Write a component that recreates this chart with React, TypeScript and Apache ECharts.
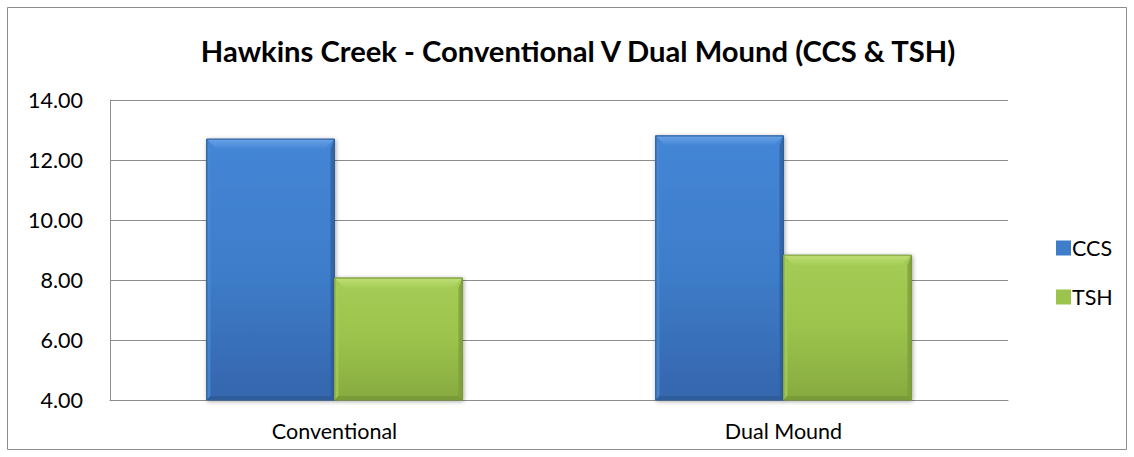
import React, { useEffect, useRef } from "react";
import * as echarts from "echarts";

const categories = ["Conventional", "Dual Mound"];
const ccsValues = [12.7, 12.81];
const tshValues = [8.07, 8.83];
const yTicks = { min: 4, max: 14, interval: 2 };

const FONT = "Lato, 'Noto Sans', sans-serif";

type Pal = { top: string; mid: string; bottom: string; bevelTop: string; bevelLeft: string; bevelRight: string; bevelBottom: string; edge: string };

const bluePal: Pal = {
  top: "#4486d6",
  mid: "#3e7dca",
  bottom: "#3566ad",
  bevelTop: "#6aa3e6",
  bevelLeft: "#4a88d2",
  bevelRight: "#2f609f",
  bevelBottom: "#2d5a95",
  edge: "#2f5f9e",
};
const greenPal: Pal = {
  top: "#a5cd55",
  mid: "#9cc34c",
  bottom: "#87aa40",
  bevelTop: "#c1df78",
  bevelLeft: "#a6cb58",
  bevelRight: "#7d9e3a",
  bevelBottom: "#779737",
  edge: "#7a9a38",
};

function makeRender(offsetFactor: number, pal: Pal) {
  return (params: any, api: any) => {
    const cat = api.value(0);
    const val = api.value(1);
    const topPt = api.coord([cat, val]);
    const basePt = api.coord([cat, yTicks.min]);
    const band = api.size([1, 0])[0];
    const bw = band * 0.285;
    const x0 = topPt[0] + offsetFactor * bw;
    const y0 = topPt[1];
    const w = bw;
    const h = basePt[1] - topPt[1];
    const b = 10;
    const s = 4;
    return {
      type: "group",
      children: [
        {
          type: "rect",
          shape: { x: x0, y: y0, width: w, height: h },
          style: {
            fill: new echarts.graphic.LinearGradient(0, 0, 0, 1, [
              { offset: 0, color: pal.top },
              { offset: 0.5, color: pal.mid },
              { offset: 1, color: pal.bottom },
            ]),
            stroke: pal.edge,
            lineWidth: 1,
            shadowColor: "rgba(0,0,0,0.35)",
            shadowBlur: 4,
            shadowOffsetX: 1,
            shadowOffsetY: 1,
          },
        },
        {
          type: "polygon",
          shape: { points: [[x0, y0], [x0 + s, y0 + b], [x0 + s, y0 + h - s], [x0, y0 + h]] },
          style: { fill: pal.bevelLeft, opacity: 0.8 },
        },
        {
          type: "polygon",
          shape: { points: [[x0 + w, y0], [x0 + w - s, y0 + b], [x0 + w - s, y0 + h - s], [x0 + w, y0 + h]] },
          style: { fill: pal.bevelRight, opacity: 0.8 },
        },
        {
          type: "polygon",
          shape: { points: [[x0, y0 + h], [x0 + s, y0 + h - s], [x0 + w - s, y0 + h - s], [x0 + w, y0 + h]] },
          style: { fill: pal.bevelBottom, opacity: 0.8 },
        },
        {
          type: "polygon",
          shape: { points: [[x0, y0], [x0 + w, y0], [x0 + w - b, y0 + b], [x0 + b, y0 + b]] },
          style: {
            fill: new echarts.graphic.LinearGradient(0, 0, 0, 1, [
              { offset: 0, color: pal.bevelTop },
              { offset: 1, color: pal.top },
            ]),
          },
        },
        {
          type: "rect",
          shape: { x: x0 + 0.5, y: y0 + 0.5, width: w - 1, height: h - 1 },
          style: { fill: "none", stroke: pal.edge, lineWidth: 1, opacity: 0.7 },
        },
      ],
    };
  };
}

export default function App() {
  const ref = useRef<HTMLDivElement>(null);
  useEffect(() => {
    const chart = echarts.init(ref.current!, null, { renderer: "svg" });
    chart.setOption({
      animation: false,
      title: {
        text: "Hawkins Creek - Conventional V Dual Mound (CCS & TSH)",
        left: 573,
        textAlign: "center",
        top: 31,
        textStyle: { fontFamily: FONT, fontSize: 29.2, fontWeight: "bold", color: "#000" },
      },
      graphic: [
        {
          type: "rect",
          shape: { x: 7.5, y: 7.5, width: 1119, height: 442 },
          style: { fill: "none", stroke: "#8c8c8c", lineWidth: 1 },
          silent: true,
        },
      ],
      legend: {
        orient: "vertical",
        left: 1051,
        top: 232,
        itemWidth: 15,
        itemHeight: 15,
        itemGap: 27,
        icon: "rect",
        textStyle: { fontFamily: FONT, fontSize: 21.5, color: "#000", padding: [0, 0, 0, -4] },
        data: [
          { name: "CCS", itemStyle: { color: "#3e7dca" } },
          { name: "TSH", itemStyle: { color: "#9cc34c" } },
        ],
      },
      grid: { left: 110, top: 100, width: 898, height: 300 },
      xAxis: {
        type: "category",
        data: categories,
        axisLine: { lineStyle: { color: "#8c8c8c" } },
        axisTick: { show: false },
        axisLabel: { fontFamily: FONT, fontSize: 21.5, color: "#000", margin: 20 },
      },
      yAxis: {
        type: "value",
        min: yTicks.min,
        max: yTicks.max,
        interval: yTicks.interval,
        axisLine: { show: true, lineStyle: { color: "#8c8c8c" } },
        axisTick: { show: false },
        axisLabel: {
          fontFamily: FONT,
          fontSize: 21.5,
          color: "#000",
          margin: 27,
          formatter: (v: number) => v.toFixed(2),
        },
        splitLine: { lineStyle: { color: "#8c8c8c", width: 1 } },
      },
      series: [
        {
          name: "CCS",
          type: "custom",
          itemStyle: { color: "#3e7dca" },
          renderItem: makeRender(-1, bluePal),
          encode: { x: 0, y: 1 },
          data: categories.map((_, i) => [i, ccsValues[i]]),
        },
        {
          name: "TSH",
          type: "custom",
          itemStyle: { color: "#9cc34c" },
          renderItem: makeRender(0, greenPal),
          encode: { x: 0, y: 1 },
          data: categories.map((_, i) => [i, tshValues[i]]),
        },
      ],
    });
    return () => chart.dispose();
  }, []);
  return (
    <div
      ref={ref}
      style={{ position: "absolute", left: 0, top: 0, width: 1134, height: 457, background: "#fff" }}
    />
  );
}
